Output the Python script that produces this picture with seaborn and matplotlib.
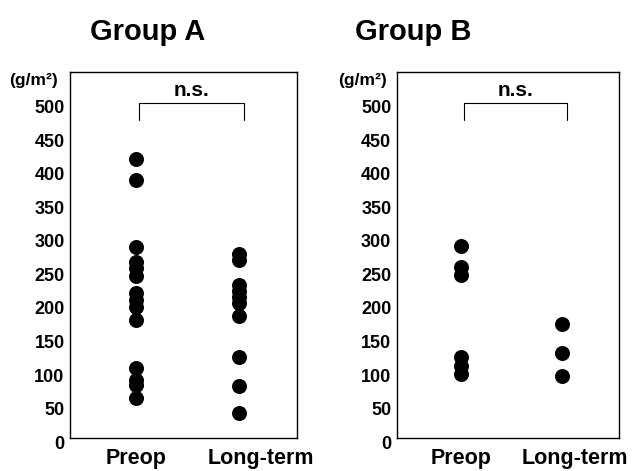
import pandas as pd
import matplotlib
matplotlib.use("Agg")
import matplotlib.pyplot as plt
import matplotlib.transforms as mtransforms
import seaborn as sns

# valores (g/m2)
groups = ["Group A", "Group B"]
times = ["Preop", "Long-term"]
a_preop = [417, 385, 285, 263, 253, 241, 216, 206, 196, 176, 104, 87, 79, 60]
a_long = [274, 266, 229, 220, 211, 202, 182, 121, 78, 38]
b_preop = [286, 255, 243, 121, 108, 95]
b_long = [170, 127, 93]
yticks = list(range(0, 501, 50))

# tabla larga para seaborn
rows = []
for g, pre, lon in [("Group A", a_preop, a_long), ("Group B", b_preop, b_long)]:
    rows += [{"group": g, "time": "Preop", "value": v} for v in pre]
    rows += [{"group": g, "time": "Long-term", "value": v} for v in lon]
df = pd.DataFrame(rows)

sns.set_style("white")
plt.rcParams["font.family"] = ["Liberation Sans", "DejaVu Sans"]
plt.rcParams["font.weight"] = "bold"
plt.rcParams["text.color"] = "black"
plt.rcParams["xtick.color"] = "black"
plt.rcParams["ytick.color"] = "black"

fig = plt.figure(figsize=(6.32, 4.71), dpi=100)
axes = [fig.add_axes([0.111, 0.070, 0.359, 0.777]),
        fig.add_axes([0.628, 0.070, 0.351, 0.777])]
title_x = [0.233, 0.654]
unit_x = [0.014, 0.535]
label_shift = [0.22, 0.13]

for ax, g, tx, ux, sh in zip(axes, groups, title_x, unit_x, label_shift):
    sub = df[df["group"] == g]
    sns.stripplot(data=sub, x="time", y="value", order=times, jitter=False,
                  color="black", size=10.8, linewidth=0, ax=ax)
    ax.set_xlim(-0.64, 1.56)
    ax.set_ylim(0, 546)
    ax.set_yticks(yticks)
    ax.set_yticklabels([str(t) for t in yticks], fontsize=13, fontweight="bold")
    ax.set_xticks([0, 1])
    ax.set_xticklabels(times, fontsize=15.5, fontweight="bold")
    ax.tick_params(axis="x", length=0, pad=7)
    ax.tick_params(axis="y", direction="in", length=2, width=0.6, pad=4)
    for lbl in ax.get_xticklabels()[1:]:
        lbl.set_transform(lbl.get_transform() +
                          mtransforms.ScaledTranslation(sh, 0, fig.dpi_scale_trans))
    for lbl in ax.get_yticklabels():
        lbl.set_transform(lbl.get_transform() +
                          mtransforms.ScaledTranslation(0, -0.04, fig.dpi_scale_trans))
    ax.set_xlabel("")
    ax.set_ylabel("")
    for s in ax.spines.values():
        s.set_visible(True)
        s.set_color("black")
        s.set_linewidth(1.0)
    # corchete n.s.
    ax.plot([0.03, 0.03, 1.05, 1.05], [475, 500, 500, 475], color="black", lw=0.8)
    ax.text(0.54, 505, "n.s.", ha="center", va="bottom", fontsize=15, fontweight="bold")
    fig.text(tx, 0.932, g, ha="center", va="center", fontsize=21, fontweight="bold")
    fig.text(ux, 0.830, "(g/m²)", ha="left", va="center", fontsize=12.5, fontweight="bold")

fig.savefig("out.png", dpi=100)
